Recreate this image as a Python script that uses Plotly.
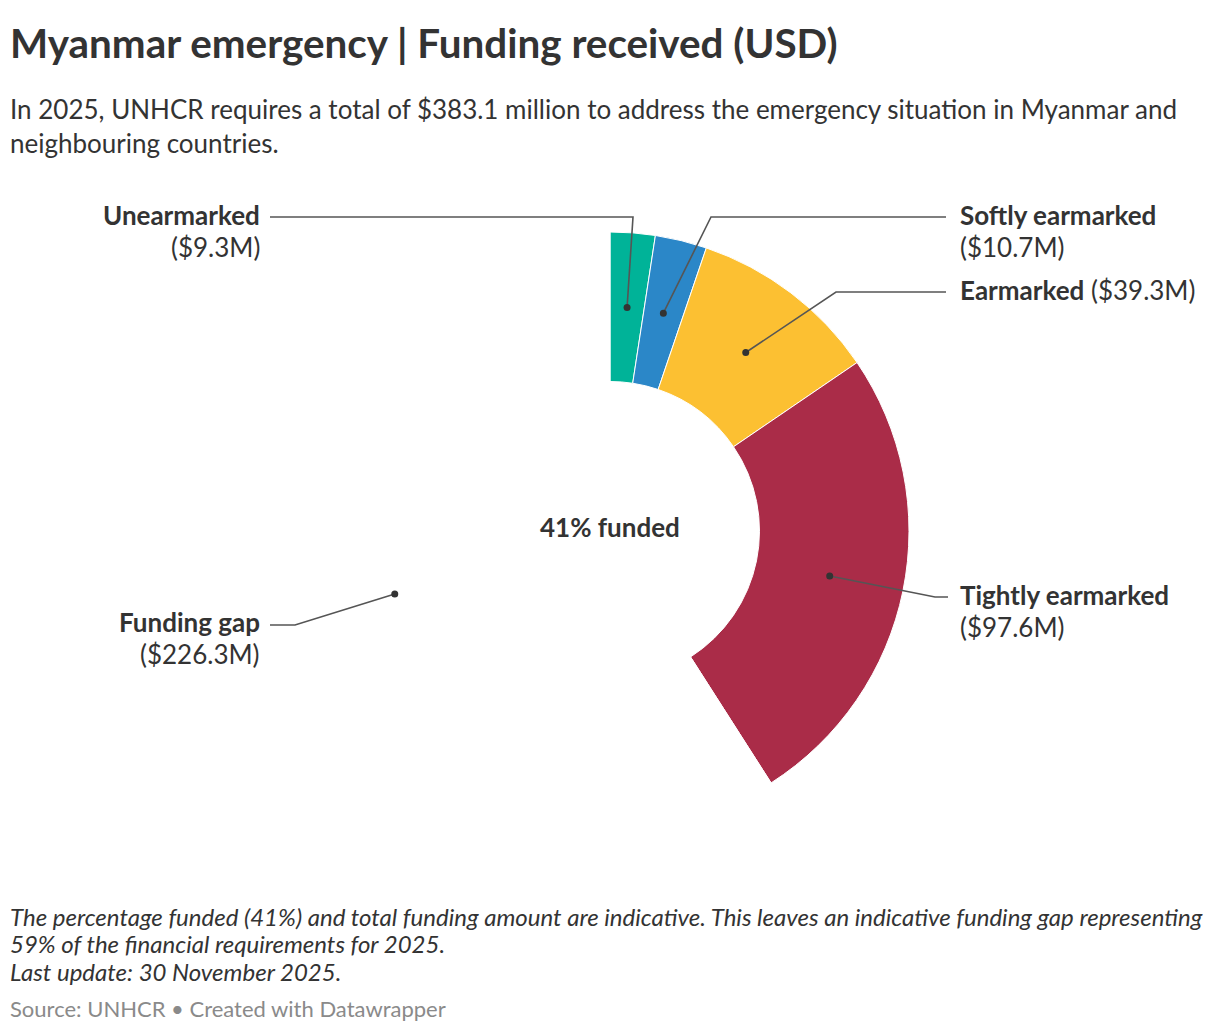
import math

import plotly.graph_objects as go


# Datos de financiamiento (millones de USD)
CATEGORIAS = ["Unearmarked", "Softly earmarked", "Earmarked", "Tightly earmarked", "Funding gap"]
MONTOS = [9.3, 10.7, 39.3, 97.6, 226.3]
COLORES = ["#00B398", "#2B87C8", "#FCC032", "#AA2C48", "rgba(0,0,0,0)"]

ANCHO = 1220
ALTO = 1032

# Geometría del donut en píxeles
CX, CY, RADIO = 610, 531, 299
HOYO = 0.5

TEXTO = "#333333"
FUENTE = "Lato, 'Open Sans', sans-serif"

# Posición de cada etiqueta: codo, fin de línea, lado y renglones
ETIQUETAS = {
    "Unearmarked": dict(codo=(633, 217), fin=(270, 217), x=262, lado="right",
                        lineas=[(215, "<b>Unearmarked</b>"), (247, "($9.3M)")]),
    "Softly earmarked": dict(codo=(711, 217), fin=(946, 217), x=958, lado="left",
                             lineas=[(215, "<b>Softly earmarked</b>"), (247, "($10.7M)")]),
    "Earmarked": dict(codo=(836, 292), fin=(946, 292), x=958, lado="left",
                      lineas=[(290, "<b>Earmarked</b> ($39.3M)")]),
    "Tightly earmarked": dict(codo=(935, 597), fin=(948, 597), x=958, lado="left",
                              lineas=[(595, "<b>Tightly earmarked</b>"), (627, "($97.6M)")]),
    "Funding gap": dict(codo=(295, 625), fin=(270, 625), x=262, lado="right",
                        lineas=[(622, "<b>Funding gap</b>"), (654, "($226.3M)")]),
}


def punto_medio(i):
    """Centro de cada rebanada, en píxeles, a media corona."""
    total = sum(MONTOS)
    acumulado = sum(MONTOS[:i]) + MONTOS[i] / 2
    angulo = acumulado / total * 2 * math.pi
    r = RADIO * (1 + HOYO) / 2
    return CX + r * math.sin(angulo), CY - r * math.cos(angulo)


def main():
    fig = go.Figure()

    fig.add_trace(
        go.Pie(
            labels=CATEGORIAS,
            values=MONTOS,
            hole=HOYO,
            sort=False,
            direction="clockwise",
            rotation=0,
            marker=dict(colors=COLORES, line=dict(color="#FFFFFF", width=1)),
            textinfo="none",
            hoverinfo="label+value",
            showlegend=False,
            domain=dict(
                x=[(CX - RADIO) / ANCHO, (CX + RADIO) / ANCHO],
                y=[1 - (CY + RADIO) / ALTO, 1 - (CY - RADIO) / ALTO],
            ),
        )
    )

    # Eje invisible en píxeles para líneas guía y textos
    fig.add_trace(go.Scatter(x=[0, ANCHO], y=[0, ALTO], mode="markers",
                             marker_opacity=0, hoverinfo="skip", showlegend=False))

    figuras = []
    anotaciones = []

    for i, nombre in enumerate(CATEGORIAS):
        px, py = punto_medio(i)
        et = ETIQUETAS[nombre]

        figuras.append(
            dict(
                type="path",
                path=f"M {px},{py} L {et['codo'][0]},{et['codo'][1]} L {et['fin'][0]},{et['fin'][1]}",
                line=dict(color="#555555", width=1.6),
            )
        )
        figuras.append(
            dict(
                type="circle",
                x0=px - 3.5, x1=px + 3.5, y0=py - 3.5, y1=py + 3.5,
                fillcolor="#333333",
                line_width=0,
            )
        )

        for y, texto in et["lineas"]:
            anotaciones.append(
                dict(x=et["x"], y=y, text=texto, xanchor=et["lado"], yanchor="middle",
                     font=dict(size=26, color=TEXTO))
            )

    anotaciones.append(
        dict(x=CX, y=527, text="<b>41% funded</b>", xanchor="center", yanchor="middle",
             font=dict(size=26, color=TEXTO))
    )

    anotaciones.append(
        dict(x=8, y=42, text="<b>Myanmar emergency | Funding received (USD)</b>",
             xanchor="left", yanchor="middle", font=dict(size=40.4, color=TEXTO))
    )

    subtitulo = [
        (109, "In 2025, UNHCR requires a total of $383.1 million to address the emergency situation in Myanmar and"),
        (143, "neighbouring countries."),
    ]
    for y, texto in subtitulo:
        anotaciones.append(
            dict(x=8, y=y, text=texto, xanchor="left", yanchor="middle",
                 font=dict(size=26, color=TEXTO))
        )

    notas = [
        (916, "<i>The percentage funded (41%) and total funding amount are indicative. This leaves an indicative funding gap representing</i>"),
        (943, "<i>59% of the financial requirements for 2025.</i>"),
        (971, "<i>Last update: 30 November 2025.</i>"),
    ]
    for y, texto in notas:
        anotaciones.append(
            dict(x=8, y=y, text=texto, xanchor="left", yanchor="middle",
                 font=dict(size=24, color=TEXTO))
        )

    anotaciones.append(
        dict(x=8, y=1008, text="Source: UNHCR • Created with Datawrapper",
             xanchor="left", yanchor="middle", font=dict(size=22, color="#8A8A8A"))
    )

    for a in anotaciones:
        a.update(xref="x", yref="y", showarrow=False)
    for s in figuras:
        s.update(xref="x", yref="y", layer="above")

    fig.update_xaxes(range=[0, ANCHO], visible=False, fixedrange=True)
    fig.update_yaxes(range=[ALTO, 0], visible=False, fixedrange=True)

    fig.update_layout(
        width=ANCHO,
        height=ALTO,
        margin=dict(l=0, r=0, t=0, b=0),
        paper_bgcolor="#FFFFFF",
        plot_bgcolor="rgba(0,0,0,0)",
        font_family=FUENTE,
        font_color=TEXTO,
        annotations=anotaciones,
        shapes=figuras,
        xaxis_domain=[0, 1],
        yaxis_domain=[0, 1],
    )

    fig.write_html(
        "out.html",
        config={"displayModeBar": False},
        post_script="document.body.style.margin='0';document.body.style.overflow='hidden';",
    )


if __name__ == "__main__":
    main()
